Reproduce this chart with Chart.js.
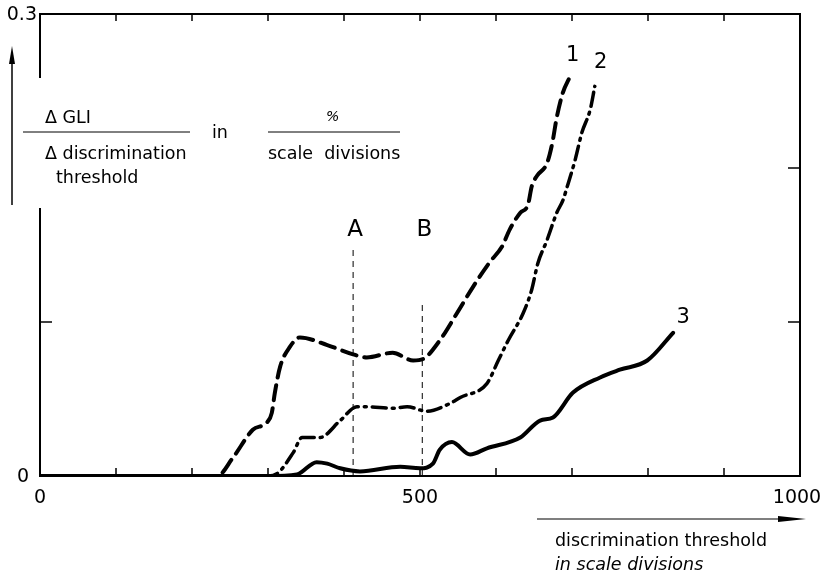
<!DOCTYPE html>
<html>
<head>
<meta charset="utf-8">
<script src="https://cdn.jsdelivr.net/npm/chart.js@4/dist/chart.umd.min.js"></script>
<style>
  body { margin: 0; background: #fff; }
  canvas { display: block; }
</style>
</head>
<body>
<canvas id="chart" width="821" height="574"></canvas>
<script>
// curve 1 (dashed)
const curve1X = [0, 100, 200, 233, 254, 280, 299, 305, 309, 316, 329, 342, 378, 412, 430, 464, 491, 504, 526, 549, 570, 592, 608, 618, 632, 642, 647, 654, 667, 674, 680, 688, 697];
const curve1Y = [0, 0, 0, 0, 0.012, 0.030, 0.035, 0.041, 0.054, 0.071, 0.084, 0.090, 0.085, 0.079, 0.077, 0.080, 0.075, 0.076, 0.088, 0.106, 0.123, 0.139, 0.149, 0.160, 0.171, 0.176, 0.188, 0.195, 0.203, 0.216, 0.233, 0.249, 0.259];
// curve 2 (dash-dot)
const curve2X = [0, 150, 300, 313, 333, 345, 359, 368, 395, 417, 430, 464, 483, 509, 539, 553, 588, 603, 616, 636, 647, 655, 667, 680, 688, 695, 704, 713, 724, 730];
const curve2Y = [0, 0, 0, 0.002, 0.015, 0.025, 0.025, 0.025, 0.036, 0.045, 0.045, 0.044, 0.045, 0.042, 0.047, 0.051, 0.060, 0.075, 0.088, 0.106, 0.121, 0.138, 0.153, 0.171, 0.179, 0.190, 0.205, 0.223, 0.238, 0.253];
// curve 3 (solid)
const curve3X = [0, 150, 300, 338, 364, 378, 395, 421, 474, 500, 517, 526, 542, 566, 588, 632, 658, 675, 701, 737, 763, 799, 833];
const curve3Y = [0, 0, 0, 0.001, 0.009, 0.008, 0.005, 0.003, 0.006, 0.005, 0.008, 0.017, 0.022, 0.014, 0.018, 0.025, 0.036, 0.038, 0.054, 0.064, 0.069, 0.075, 0.093];

// marker lines A and B
const markerNames = ['A', 'B'];
const markerX = [412, 503];
const markerTop = [0.148, 0.114];

const curveNames = ['1', '2', '3'];
const xTicks = [0, 100, 200, 300, 400, 500, 600, 700, 800, 900, 1000];
const xTickLabels = ['0', '500', '1000'];
const yTicks = [0.1, 0.2];
const yTickLabels = ['0', '0.3'];

const FONT = "'DejaVu Sans', sans-serif";

function pts(xs, ys) {
    return xs.map((x, i) => ({ x: x, y: ys[i] }));
}

const datasets = [
    { data: pts(curve1X, curve1Y), borderDash: [15, 8], borderWidth: 4 },
    { data: pts(curve2X, curve2Y), borderDash: [14, 6, 2, 6], borderWidth: 3.5 },
    { data: pts(curve3X, curve3Y), borderWidth: 4 }
].map(d => Object.assign({
    borderColor: '#000',
    pointRadius: 0,
    showLine: true,
    cubicInterpolationMode: 'monotone',
    borderCapStyle: 'round',
    fill: false
}, d));

markerNames.forEach((name, i) => {
    datasets.push({
        data: [{ x: markerX[i], y: 0 }, { x: markerX[i], y: markerTop[i] }],
        borderColor: '#000',
        borderWidth: 1,
        borderDash: [6, 5],
        pointRadius: 0,
        showLine: true
    });
});

const decorations = {
    id: 'decorations',
    afterDraw(chart) {
        const ctx = chart.ctx;
        const xs = chart.scales.x, ys = chart.scales.y;
        const a = chart.chartArea;
        ctx.save();
        ctx.strokeStyle = '#000';
        ctx.fillStyle = '#000';
        ctx.lineWidth = 2;

        // frame (left side broken behind the axis title)
        ctx.beginPath();
        ctx.moveTo(a.left, 78); ctx.lineTo(a.left, a.top); ctx.lineTo(a.right, a.top);
        ctx.lineTo(a.right, a.bottom); ctx.lineTo(a.left, a.bottom); ctx.lineTo(a.left, 208);
        ctx.stroke();

        // ticks pointing inward
        ctx.lineWidth = 1.5;
        ctx.beginPath();
        xTicks.slice(1, -1).forEach(v => {
            const px = xs.getPixelForValue(v);
            ctx.moveTo(px, a.top); ctx.lineTo(px, a.top + 7);
            ctx.moveTo(px, a.bottom); ctx.lineTo(px, a.bottom - 8);
        });
        yTicks.forEach(v => {
            const py = ys.getPixelForValue(v);
            ctx.moveTo(a.right, py); ctx.lineTo(a.right - 12, py);
        });
        const py1 = ys.getPixelForValue(yTicks[0]);
        ctx.moveTo(a.left, py1); ctx.lineTo(a.left + 12, py1);
        ctx.stroke();

        // tick labels
        ctx.font = '19px ' + FONT;
        ctx.textBaseline = 'middle';
        ctx.textAlign = 'center';
        [0, 500, 1000].forEach((v, i) => {
            ctx.fillText(xTickLabels[i], xs.getPixelForValue(v) - (i === 2 ? 3 : 0), a.bottom + 22);
        });
        ctx.textAlign = 'right';
        ctx.fillText(yTickLabels[0], a.left - 11, ys.getPixelForValue(0) + 1);
        ctx.fillText(yTickLabels[1], a.left - 3, ys.getPixelForValue(0.3) + 1);

        // y axis arrow
        ctx.lineWidth = 1.5;
        ctx.beginPath();
        ctx.moveTo(12, 205); ctx.lineTo(12, 56);
        ctx.stroke();
        ctx.beginPath();
        ctx.moveTo(12, 46); ctx.lineTo(9, 64); ctx.lineTo(15, 64); ctx.closePath();
        ctx.fill();

        // y axis title as a fraction
        ctx.textAlign = 'left';
        ctx.font = '17.5px ' + FONT;
        ctx.fillText('\u0394 GLI', 45, 118);
        ctx.fillText('\u0394 discrimination', 45, 154);
        ctx.fillText('threshold', 56, 178);
        ctx.fillText('in', 212, 133);
        ctx.fillText('scale  divisions', 268, 154);
        ctx.font = 'italic 14px ' + FONT;
        ctx.fillText('%', 326, 117);
        ctx.lineWidth = 1;
        ctx.beginPath();
        ctx.moveTo(23, 132); ctx.lineTo(190, 132);
        ctx.moveTo(268, 132); ctx.lineTo(400, 132);
        ctx.stroke();

        // x axis title with arrow
        ctx.lineWidth = 1.2;
        ctx.beginPath();
        ctx.moveTo(537, 519); ctx.lineTo(790, 519);
        ctx.stroke();
        ctx.beginPath();
        ctx.moveTo(806, 519); ctx.lineTo(778, 516); ctx.lineTo(778, 522); ctx.closePath();
        ctx.fill();
        ctx.font = '17.5px ' + FONT;
        ctx.fillText('discrimination threshold', 555, 541);
        ctx.font = 'italic 17.5px ' + FONT;
        ctx.fillText('in scale divisions', 555, 565);

        // marker letters
        ctx.font = '23px ' + FONT;
        ctx.textAlign = 'center';
        markerNames.forEach((name, i) => {
            ctx.fillText(name, xs.getPixelForValue(markerX[i]) + 2, 230);
        });

        // curve numbers at the ends
        ctx.font = '21px ' + FONT;
        const ends = [
            [curve1X[curve1X.length - 1], curve1Y[curve1Y.length - 1], 3, -22],
            [curve2X[curve2X.length - 1], curve2Y[curve2Y.length - 1], 6, -24],
            [curve3X[curve3X.length - 1], curve3Y[curve3Y.length - 1], 10, -15]
        ];
        ends.forEach((e, i) => {
            ctx.fillText(curveNames[i], xs.getPixelForValue(e[0]) + e[2], ys.getPixelForValue(e[1]) + e[3]);
        });
        ctx.restore();
    }
};

new Chart(document.getElementById('chart').getContext('2d'), {
    type: 'scatter',
    data: { datasets: datasets },
    options: {
        responsive: false,
        animation: false,
        layout: { padding: { left: 40, top: 14, right: 21, bottom: 98 } },
        plugins: { legend: { display: false }, tooltip: { enabled: false } },
        scales: {
            x: { type: 'linear', min: 0, max: 1000, display: false },
            y: { type: 'linear', min: 0, max: 0.3, display: false }
        }
    },
    plugins: [decorations]
});
</script>
</body>
</html>
